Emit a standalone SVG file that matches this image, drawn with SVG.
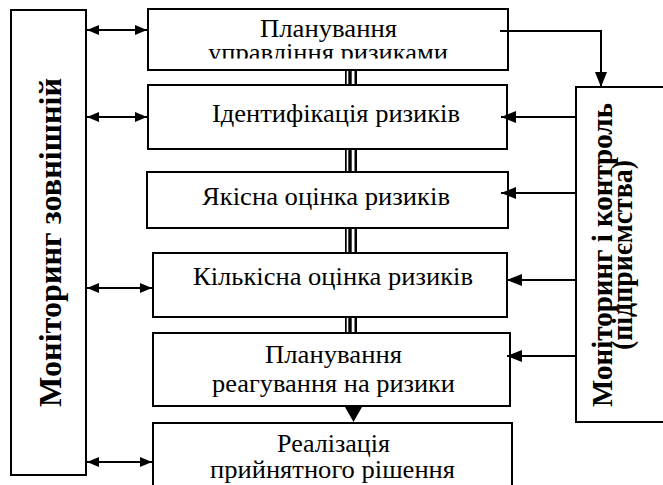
<svg xmlns="http://www.w3.org/2000/svg" width="663" height="485" viewBox="0 0 663 485" font-family="Liberation Serif, serif">
<style>
.box{fill:#fff;stroke:#000;stroke-width:2}
.t{font-family:'Liberation Serif',serif;font-size:25px;fill:#000}
.b{font-family:'Liberation Serif',serif;font-weight:bold;fill:#000}
.ln{stroke:#000;stroke-width:2;fill:none}
.tri{fill:#000}
</style>
<defs>
<marker id="ah" markerUnits="userSpaceOnUse" markerWidth="12" markerHeight="10" refX="12" refY="5" orient="auto-start-reverse"><path d="M0,0 L12,5 L0,10 Z" fill="#000"/></marker>
<marker id="ah2" markerUnits="userSpaceOnUse" markerWidth="15" markerHeight="12" refX="15" refY="6" orient="auto"><path d="M0,0 L15,6 L0,12 Z" fill="#000"/></marker>
<clipPath id="c1"><rect x="148" y="9" width="360" height="49.5"/></clipPath>
</defs>
<g id="ext">
<rect class="box" x="11" y="10" width="75" height="465"/>
<text class="b" font-size="31" transform="translate(61,407) rotate(-90)" textLength="329" lengthAdjust="spacingAndGlyphs">Моніторинг зовнішній</text>
</g>
<g id="ctrl">
<rect class="box" x="576" y="87" width="100" height="335"/>
<text class="b" font-size="29" transform="translate(612,407) rotate(-90)" textLength="304" lengthAdjust="spacingAndGlyphs">Моніторинг і контроль</text>
<text class="b" font-size="29" transform="translate(632,350) rotate(-90)" textLength="190" lengthAdjust="spacingAndGlyphs">(підприємства)</text>
</g>
<g id="n1">
<rect class="box" x="148" y="9" width="360" height="61"/>
<text class="t" x="260" y="37" textLength="137" lengthAdjust="spacingAndGlyphs">Планування</text>
<text class="t" x="208" y="61" textLength="240" lengthAdjust="spacingAndGlyphs" clip-path="url(#c1)">управління ризиками</text>
</g>
<g id="n2">
<rect class="box" x="148" y="85" width="359" height="64"/>
<text class="t" x="212" y="122" textLength="248" lengthAdjust="spacingAndGlyphs">Ідентифікація ризиків</text>
</g>
<g id="n3">
<rect class="box" x="147" y="172" width="361" height="56"/>
<text class="t" x="202" y="205" textLength="248" lengthAdjust="spacingAndGlyphs">Якісна оцінка ризиків</text>
</g>
<g id="n4">
<rect class="box" x="153" y="253" width="354" height="64"/>
<text class="t" x="193" y="285" textLength="280" lengthAdjust="spacingAndGlyphs">Кількісна оцінка ризиків</text>
</g>
<g id="n5">
<rect class="box" x="153" y="333" width="357" height="73"/>
<text class="t" x="265" y="363" textLength="137" lengthAdjust="spacingAndGlyphs">Планування</text>
<text class="t" x="212" y="392" textLength="243" lengthAdjust="spacingAndGlyphs">реагування на ризики</text>
</g>
<g id="n6">
<path class="box" d="M153,490 V423 H512 V490"/>
<text class="t" x="277" y="452" textLength="113" lengthAdjust="spacingAndGlyphs">Реалізація</text>
<text class="t" x="210" y="478" textLength="245" lengthAdjust="spacingAndGlyphs">прийнятного рішення</text>
</g>
<g id="connectors">
<g id="triple">
<rect x="345" y="71" width="1.7" height="13"/><rect x="348.3" y="71" width="3.4" height="13"/><rect x="354.5" y="71" width="2.5" height="13"/>
<rect x="345" y="150" width="1.7" height="21"/><rect x="348.3" y="150" width="3.4" height="21"/><rect x="354.5" y="150" width="2.5" height="21"/>
<rect x="345" y="229" width="1.7" height="23"/><rect x="348.3" y="229" width="3.4" height="23"/><rect x="354.5" y="229" width="2.5" height="23"/>
<rect x="345" y="318" width="1.7" height="14"/><rect x="348.3" y="318" width="3.4" height="14"/><rect x="354.5" y="318" width="2.5" height="14"/>
</g>
<polygon class="tri" points="345,407 362,407 353.5,422"/>
<line class="ln" x1="87" y1="30" x2="147" y2="30" marker-start="url(#ah)" marker-end="url(#ah)"/>
<line class="ln" x1="87" y1="117" x2="147" y2="117" marker-start="url(#ah)" marker-end="url(#ah)"/>
<line class="ln" x1="87" y1="288" x2="152" y2="288" marker-start="url(#ah)" marker-end="url(#ah)"/>
<line class="ln" x1="87" y1="462" x2="152" y2="462" marker-start="url(#ah)" marker-end="url(#ah)"/>
<path class="ln" d="M500,31 H601 V87" marker-end="url(#ah2)"/>
<line class="ln" x1="576" y1="117" x2="501" y2="117" marker-end="url(#ah2)"/>
<line class="ln" x1="576" y1="193" x2="501" y2="193" marker-end="url(#ah2)"/>
<line class="ln" x1="576" y1="280" x2="507" y2="280" marker-end="url(#ah2)"/>
<line class="ln" x1="576" y1="356" x2="507" y2="356" marker-end="url(#ah2)"/>
</g>
</svg>
